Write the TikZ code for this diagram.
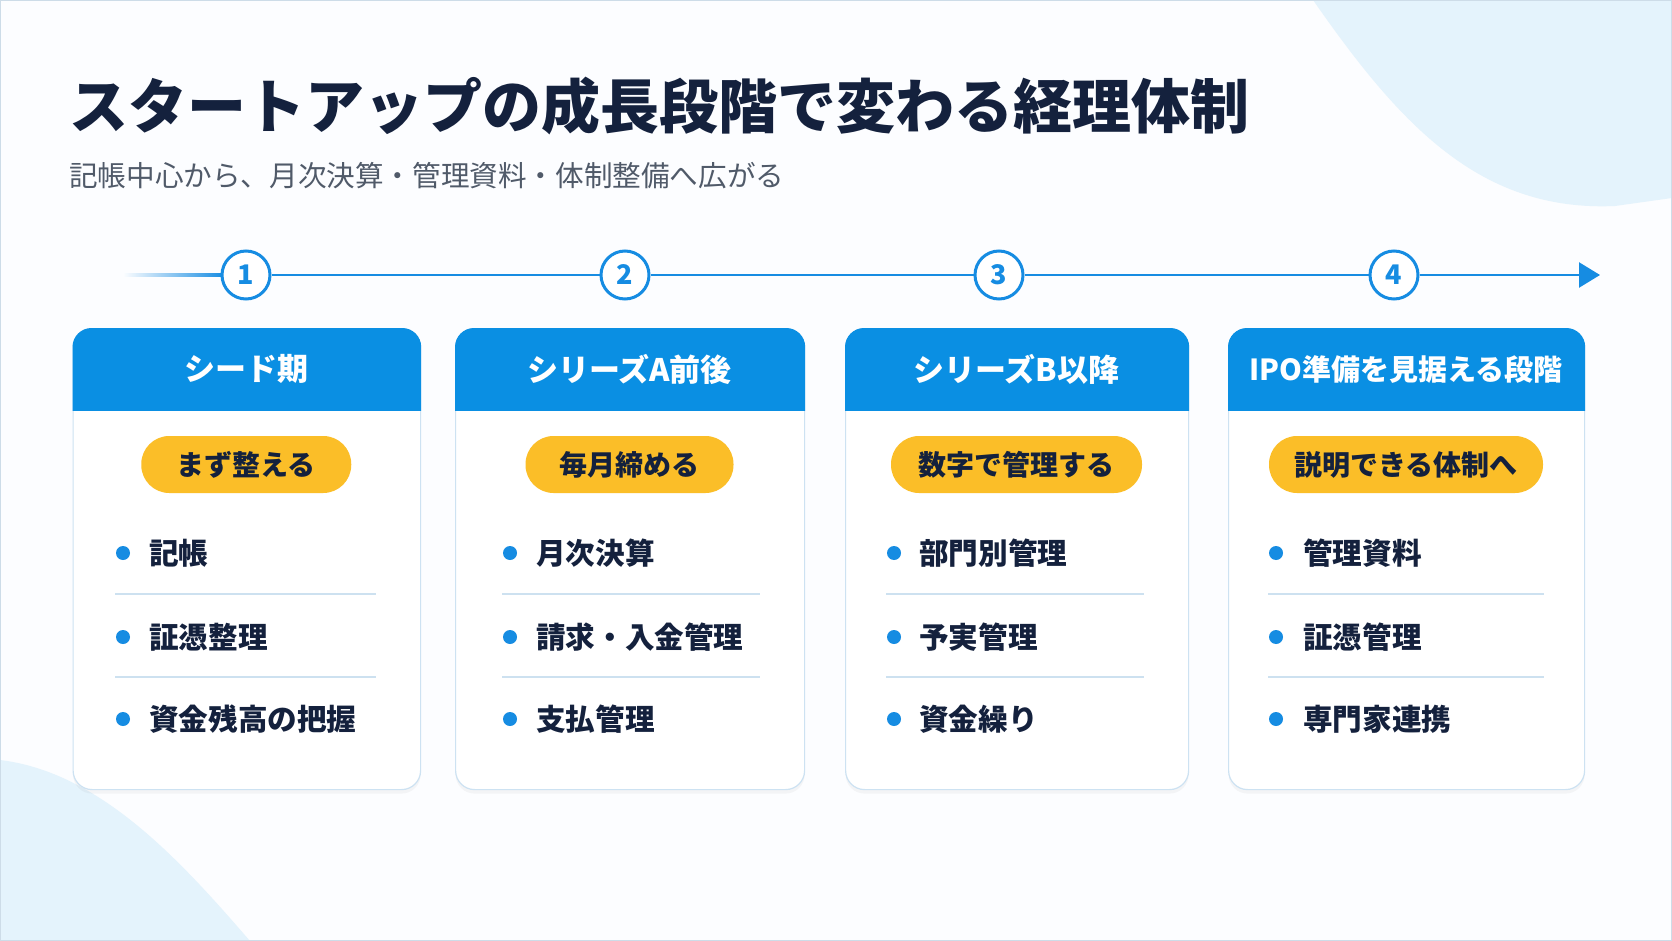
\documentclass[tikz,border=0pt]{standalone}
\usepackage{fontspec}
\setmainfont{Noto Sans CJK JP}
\usetikzlibrary{arrows.meta,shadows}
\definecolor{bgc}{RGB}{252,253,255}
\definecolor{blob}{RGB}{228,243,252}
\definecolor{framec}{RGB}{205,220,232}
\definecolor{tlblue}{RGB}{22,140,226}
\definecolor{hblue}{RGB}{10,143,227}
\definecolor{pillc}{RGB}{251,190,40}
\definecolor{navy}{RGB}{20,33,61}
\definecolor{cardline}{RGB}{205,226,242}
\definecolor{divc}{RGB}{205,225,240}
\definecolor{subc}{RGB}{80,90,105}
\tikzset{
  titletext/.style={anchor=base west, inner sep=0pt, text=navy, font=\fontsize{59}{62}\selectfont\bfseries},
  subtext/.style={anchor=base west, inner sep=0pt, text=subc, font=\fontsize{28.6}{32}\selectfont},
  numcirc/.style={circle, draw=tlblue, line width=3pt, fill=white, minimum size=48pt, inner sep=0pt, text=tlblue, font=\fontsize{27}{28}\selectfont\bfseries},
  tl/.style={draw=tlblue, line width=2.4pt},
  card/.style={draw=cardline, line width=1.2pt, fill=white, rounded corners=19pt, inner sep=0pt,
    drop shadow={opacity=0.07, shadow xshift=0pt, shadow yshift=-4pt}},
  hdtext/.style={text=white, inner sep=0pt},
  pill/.style={fill=pillc, rounded corners=28pt, minimum height=57pt, inner sep=0pt, text=navy, font=\fontsize{28}{30}\selectfont\bfseries},
  dotnode/.style={circle, fill=tlblue, minimum size=14pt, inner sep=0pt},
  itemtext/.style={anchor=west, inner sep=0pt, text=navy, font=\fontsize{29.6}{32}\selectfont\bfseries},
  divline/.style={draw=divc, line width=1.6pt}
}
\begin{document}
\begin{tikzpicture}[x=1pt,y=-1pt]
\useasboundingbox (0,0) rectangle (1672,941);
\fill[bgc] (0,0) rectangle (1672,941);
% decorative blobs
\fill[blob] (1313,0) .. controls (1400,125) and (1480,212) .. (1615,206) -- (1672,198) -- (1672,0) -- cycle;
\fill[blob] (0,760) .. controls (100,772) and (180,860) .. (250,941) -- (0,941) -- cycle;
\draw[framec, line width=1.2pt] (0.6,0.6) rectangle (1671.4,940.4);
% title
\node[titletext] (title) at (69,129) {スタートアップの成長段階で変わる経理体制};
\node[subtext] (sub) at (69,186.5) {記帳中心から、月次決算・管理資料・体制整備へ広がる};
% timeline
\coordinate (ts) at (123,275);
\coordinate (te) at (1600,275);
\shade[left color=bgc, right color=tlblue] (123,273.8) rectangle (224,276.2);
\node[numcirc] (n1) at (246,275) {1};
\node[numcirc] (n2) at (625,275) {2};
\node[numcirc] (n3) at (999,275) {3};
\node[numcirc] (n4) at (1394,275) {4};
\draw[tl] (n1) -- (n2);
\draw[tl] (n2) -- (n3);
\draw[tl] (n3) -- (n4);
\draw[tl, -{Triangle[length=21pt,width=25pt]}] (n4) -- (te);
% cards
\foreach \i/\xa/\xb/\hd/\hs/\pl/\pw/\dx/\tx/\dr/\ba/\bb/\bc in {
1/72.5/420/シード期/31/まず整える/210/123/149/376/記帳/証憑整理/資金残高の把握,
2/455/804/シリーズA前後/31/毎月締める/208/510/536/760/月次決算/請求・入金管理/支払管理,
3/845/1188/シリーズB以降/31/数字で管理する/251/894/919/1144/部門別管理/予実管理/資金繰り,
4/1228/1584/IPO準備を見据える段階/29/説明できる体制へ/274/1276/1303/1544/管理資料/証憑管理/専門家連携}{
  \pgfmathsetmacro\w{\xb-\xa}
  \pgfmathsetmacro\cx{(\xa+\xb)/2}
  \node[card, minimum width=\w pt, minimum height=461pt, anchor=north west] (card\i) at (\xa,328) {};
  \begin{scope}
    \clip[rounded corners=19pt] (card\i.north west) rectangle (card\i.south east);
    \fill[hblue] ([xshift=-2pt,yshift=2pt]card\i.north west) rectangle (\xb+2,410.5);
  \end{scope}
  \node[hdtext, font=\fontsize{\hs}{\hs}\selectfont\bfseries] (hd\i) at (\cx,369) {\hd};
  \node[pill, minimum width=\pw pt] (pill\i) at (\cx,464.5) {\pl};
  \node[dotnode] (da\i) at (\dx,553) {};
  \node[dotnode] (db\i) at (\dx,637) {};
  \node[dotnode] (dc\i) at (\dx,719) {};
  \node[itemtext] (ta\i) at (\tx,553) {\ba};
  \node[itemtext] (tb\i) at (\tx,637) {\bb};
  \node[itemtext] (tc\i) at (\tx,719) {\bc};
  \draw[divline] (\dx-8,594) -- (\dr,594);
  \draw[divline] (\dx-8,677) -- (\dr,677);
}
\end{tikzpicture}
\end{document}
